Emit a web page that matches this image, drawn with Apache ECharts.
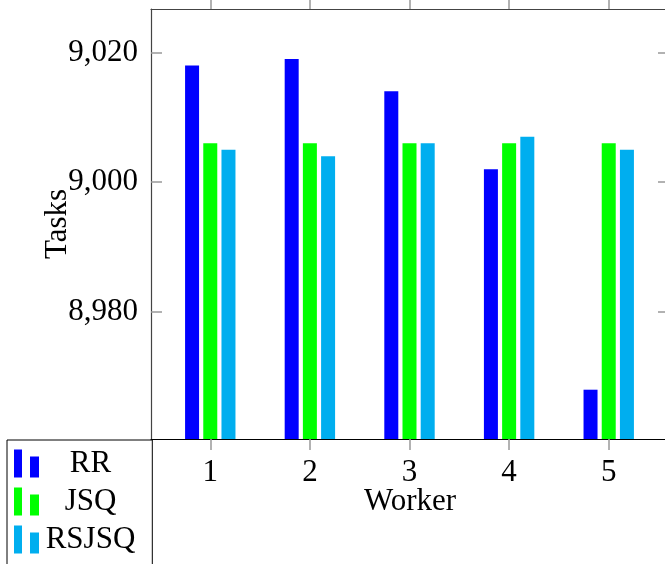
<!DOCTYPE html>
<html>
<head>
<meta charset="utf-8">
<script src="https://cdn.jsdelivr.net/npm/echarts@6/dist/echarts.min.js"></script>
<style>
  html, body { margin: 0; padding: 0; background: #fff; }
  #chart { width: 665px; height: 564px; }
</style>
</head>
<body>
<div id="chart"></div>
<script>
// worker ids and tasks per scheduler
const workers = [1, 2, 3, 4, 5];
const rr = [9018, 9019, 9014, 9002, 8968];
const jsq = [9006, 9006, 9006, 9006, 9006];
const rsjsq = [9005, 9004, 9006, 9007, 9005];
const yTicks = [8980, 9000, 9020];

const font = 'Liberation Serif';
const fs = 31;
const tickColor = '#999';

const chart = echarts.init(document.getElementById('chart'));

const toPairs = (vals) => workers.map((w, i) => [w, vals[i]]);

const barSeries = (name, vals, color) => ({
  name,
  type: 'bar',
  xAxisIndex: 0,
  yAxisIndex: 0,
  barWidth: 14,
  barGap: '30%',
  itemStyle: { color },
  data: toPairs(vals),
});

chart.setOption({
  animation: false,
  grid: {
    left: 151,
    top: 9,
    width: 518,
    height: 430,
    outerBoundsMode: 'none',
  },
  legend: {
    orient: 'vertical',
    left: 7,
    top: 440,
    height: 140,
    padding: [8, 17, 20, 7],
    itemWidth: 25,
    itemHeight: 28,
    itemGap: 7,
    borderColor: '#000',
    borderWidth: 1,
    icon: 'path://M0,0H8V28H0Z M16,7H25V28H16Z',
    formatter: (name) => '{t|' + name + '}',
    textStyle: {
      fontFamily: font,
      fontSize: fs,
      color: '#000',
      rich: { t: { width: 93, align: 'center', fontFamily: font, fontSize: fs, color: '#000' } },
    },
  },
  xAxis: [
    {
      type: 'value',
      position: 'bottom',
      min: 0.405,
      max: 5.605,
      splitLine: { show: false },
      axisLine: { show: true, lineStyle: { color: '#000', width: 1.2 } },
      axisTick: { show: true, inside: false, length: 11, customValues: workers, lineStyle: { color: tickColor, width: 1.5 } },
      axisLabel: { customValues: workers, margin: 18, fontFamily: font, fontSize: fs, color: '#000' },
      name: 'Worker',
      nameLocation: 'middle',
      nameGap: 47,
      nameMoveOverlap: false,
      nameTextStyle: { fontFamily: font, fontSize: fs, color: '#000' },
    },
    {
      type: 'value',
      position: 'top',
      min: 0.405,
      max: 5.605,
      splitLine: { show: false },
      axisLine: { show: true, lineStyle: { color: '#444', width: 1.2 } },
      axisTick: { show: true, inside: false, length: 9, customValues: workers, lineStyle: { color: tickColor, width: 1.5 } },
      axisLabel: { show: false },
    },
  ],
  yAxis: [
    {
      type: 'value',
      position: 'left',
      min: 8960.4,
      max: 9026.7,
      splitLine: { show: false },
      axisLine: { show: true, lineStyle: { color: '#444', width: 1.2 } },
      axisTick: { show: true, inside: true, length: 11, customValues: yTicks, lineStyle: { color: tickColor, width: 1.5 } },
      axisLabel: {
        customValues: yTicks,
        margin: 13,
        fontFamily: font,
        fontSize: fs,
        color: '#000',
        formatter: (v) => v.toLocaleString('en-US'),
      },
      name: 'Tasks',
      nameLocation: 'middle',
      nameGap: 78,
      nameMoveOverlap: false,
      nameTextStyle: { fontFamily: font, fontSize: fs, color: '#000' },
    },
    {
      type: 'value',
      position: 'right',
      min: 8960.4,
      max: 9026.7,
      splitLine: { show: false },
      axisLine: { show: true, lineStyle: { color: '#444', width: 1.2 } },
      axisTick: { show: true, inside: true, length: 11, customValues: yTicks, lineStyle: { color: tickColor, width: 1.5 } },
      axisLabel: { show: false },
    },
  ],
  series: [
    barSeries('RR', rr, '#0000ff'),
    barSeries('JSQ', jsq, '#00ff00'),
    barSeries('RSJSQ', rsjsq, '#00aeef'),
  ],
});
</script>
</body>
</html>
